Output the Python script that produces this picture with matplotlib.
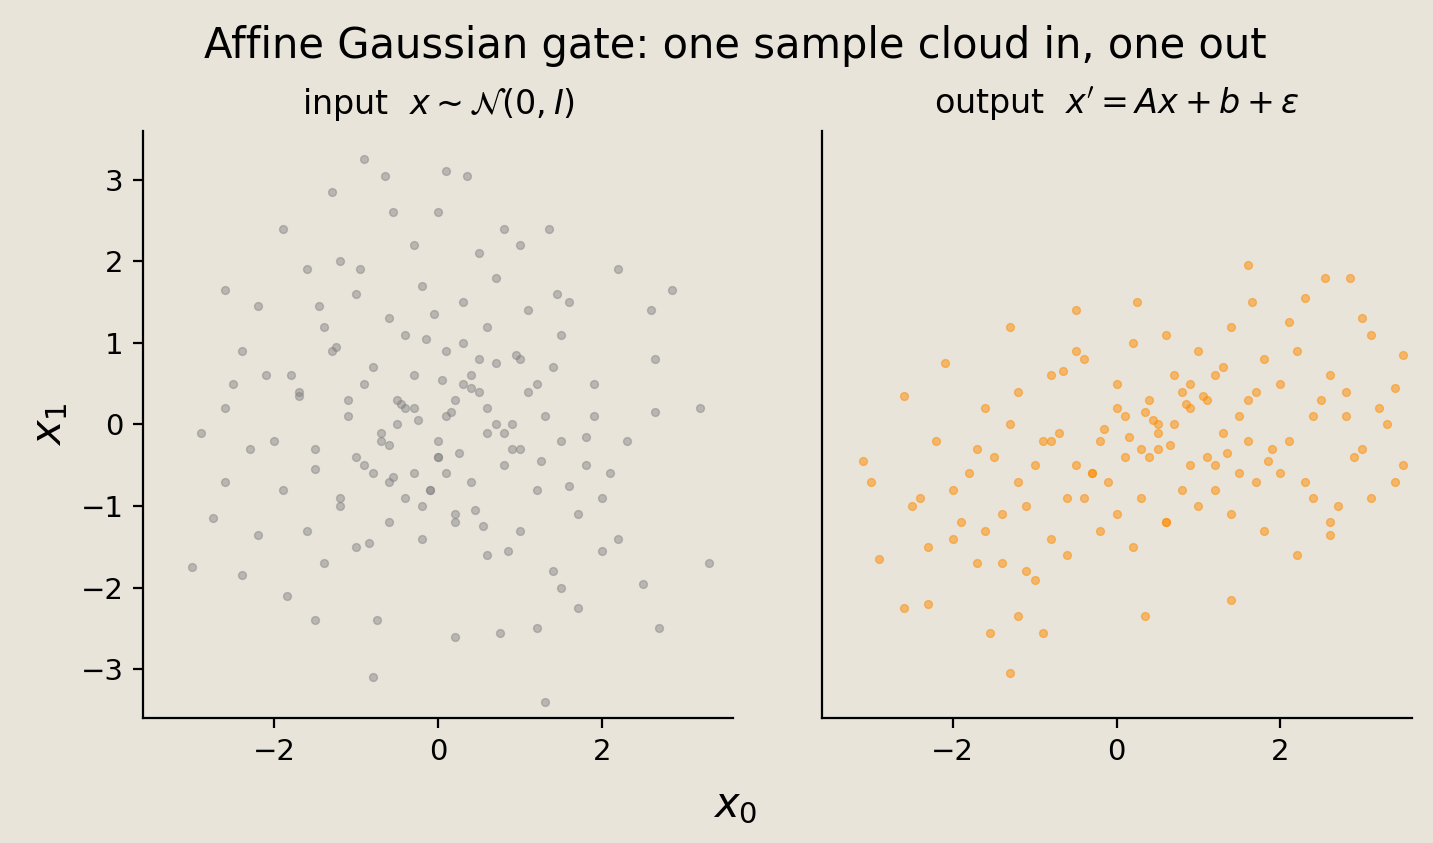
import numpy as np
import matplotlib.pyplot as plt

# input cloud points (x0, x1)
input_points = [
    (-3.0, -1.75), (3.3, -1.7), (-0.9, 3.25), (0.1, 3.1), (0.35, 3.05), (-0.65, 3.05), (-1.3, 2.85),
    (-2.6, 1.65), (2.85, 1.65), (3.2, 0.2), (-2.9, -0.1), (-2.75, -1.15), (-2.4, -1.85), (2.7, -2.5),
    (1.3, -3.4), (-0.8, -3.1), (2.5, -1.95), (-1.9, 2.4), (1.35, 2.4), (0.8, 2.4), (0.0, 2.6),
    (-0.55, 2.6), (2.2, 1.9), (2.6, 1.4), (2.65, 0.8), (2.65, 0.15), (-2.2, 1.45), (-2.4, 0.9),
    (-2.5, 0.5), (-2.6, 0.2), (-2.3, -0.3), (-2.6, -0.7), (-2.2, -1.35), (-1.85, -2.1), (-1.5, -2.4),
    (-0.75, -2.4), (0.2, -2.6), (0.75, -2.55), (1.2, -2.5), (1.7, -2.25), (2.0, -1.55), (2.2, -1.4),
    (1.5, -2.0), (-1.6, 1.9), (-1.2, 2.0), (-0.3, 2.2), (0.5, 2.1), (1.0, 2.2), (1.6, 1.5),
    (1.9, 0.5), (-1.8, 0.6), (-1.4, 1.2), (-1.0, 1.6), (-0.6, 1.3), (-0.2, 1.7), (0.3, 1.5),
    (0.7, 1.8), (1.1, 1.4), (1.5, 1.1), (1.8, -0.5), (-2.0, -0.2), (-1.7, 0.4), (-1.3, 0.9),
    (-0.9, 0.5), (-0.4, 1.1), (0.1, 0.9), (0.6, 1.2), (1.0, 0.8), (1.4, 0.7), (2.0, -0.9),
    (-1.9, -0.8), (-1.5, -0.3), (-1.1, 0.1), (-0.7, -0.1), (-0.3, 0.6), (0.2, 0.3), (0.6, 0.2),
    (1.1, 0.4), (1.5, -0.2), (1.9, 0.1), (-1.6, -1.3), (-1.2, -1.0), (-0.8, -0.6), (-0.4, -0.9),
    (0.0, -0.4), (0.4, -0.7), (0.8, -0.5), (1.2, -0.8), (1.7, -1.1), (2.1, -0.6), (-1.4, -1.7),
    (-1.0, -1.5), (-0.6, -1.2), (-0.2, -1.4), (0.2, -1.1), (0.6, -1.6), (1.0, -1.3), (1.4, -1.8),
    (-1.1, 0.3), (-0.7, -0.2), (-0.3, 0.2), (0.1, -0.6), (0.5, 0.4), (0.9, -0.3), (1.3, 0.1),
    (-0.9, -0.5), (-0.5, 0.0), (-0.1, -0.8), (0.3, 0.5), (0.7, 0.0), (-0.8, 0.7), (-0.4, 0.2),
    (0.0, -0.4), (0.4, 0.6), (0.8, -0.1), (1.2, 0.5), (-1.2, -0.9), (-0.6, -0.7), (-0.2, -1.0),
    (0.2, -1.2), (0.6, -0.1), (1.0, -0.3), (-0.5, 0.3), (0.0, -0.2), (0.5, 0.8), (-0.3, -0.6),
    (0.3, 1.0), (0.9, 0.0), (-1.0, -0.4), (0.1, 0.1), (-0.1, -0.8), (0.4, 0.45), (-0.6, -0.25),
    (0.7, 0.75), (-1.5, -0.55), (1.6, -0.75), (-2.1, 0.6), (2.3, -0.2), (-1.7, 0.35), (1.8, -0.15),
    (-0.25, 0.05), (0.25, -0.35), (-0.45, 0.25), (0.45, -1.05), (-0.15, 1.05), (0.15, 0.15),
    (-0.85, -1.45), (0.85, -1.55), (-1.25, 0.95), (1.25, -0.45), (0.05, 0.55), (-0.05, 1.35),
    (0.55, -1.25), (-0.55, -0.65), (0.95, 0.85), (-0.95, 1.9), (1.45, 1.6), (-1.45, 1.45),
]

# output cloud points (x0', x1')
output_points = [
    (-3.1, -0.45), (-3.0, -0.7), (-2.6, -2.25), (-2.3, -2.2), (-1.3, -3.05), (-1.2, -2.35),
    (-1.55, -2.55), (-0.9, -2.55), (1.4, -2.15), (0.35, -2.35), (1.6, 1.95), (2.55, 1.8),
    (2.85, 1.8), (3.1, 1.1), (3.5, 0.85), (3.5, -0.5), (3.4, -0.7), (2.6, -1.35), (3.0, 1.3),
    (1.65, 1.5), (0.25, 1.5), (-0.5, 1.4), (-1.3, 1.2), (-2.1, 0.75), (-2.6, 0.35), (-2.9, -1.65),
    (-1.7, -1.7), (2.3, 1.55), (2.1, 1.25), (-2.4, -0.9), (-2.2, -0.2), (-2.0, -1.4), (-1.8, -0.6),
    (-1.6, 0.2), (-1.4, -1.1), (-1.2, 0.4), (-1.0, -0.5), (-0.8, 0.6), (-0.6, -0.9), (-0.4, 0.8),
    (-0.2, -0.2), (0.0, 0.5), (0.2, 1.0), (0.4, 0.3), (0.6, 1.1), (0.8, 0.4), (1.0, 0.9),
    (1.2, 0.6), (1.4, 1.2), (1.6, 0.3), (1.8, 0.8), (2.0, 0.5), (2.2, 0.9), (2.4, 0.1),
    (2.6, 0.6), (2.8, 0.4), (3.0, -0.3), (3.2, 0.2), (-2.3, -1.5), (-1.9, -1.2), (-1.5, -0.4),
    (-1.1, -1.0), (-0.7, -0.1), (-0.3, -0.6), (0.1, 0.1), (0.5, -0.3), (0.9, 0.2), (1.3, -0.1),
    (1.7, 0.4), (2.1, -0.2), (2.5, 0.3), (2.9, -0.4), (3.3, 0.0), (-2.0, -0.8), (-1.6, -1.3),
    (-1.2, -0.7), (-0.8, -1.4), (-0.4, -0.9), (0.0, -1.1), (0.4, -0.4), (0.8, -0.8), (1.2, -0.5),
    (1.6, -0.2), (2.0, -0.6), (2.4, -0.9), (2.8, 0.1), (-1.7, -0.3), (-1.3, 0.0), (-0.9, -0.2),
    (-0.5, -0.5), (-0.1, -0.7), (0.3, -0.3), (0.7, 0.0), (1.1, -0.4), (1.5, 0.1), (1.9, -0.3),
    (2.3, -0.7), (2.7, -1.0), (3.1, -0.9), (-1.4, -1.7), (-1.0, -1.9), (-0.6, -1.6), (-0.2, -1.3),
    (0.2, -1.5), (0.6, -1.2), (1.0, -1.0), (1.4, -1.1), (1.8, -1.3), (2.2, -1.6), (-0.3, -0.6),
    (0.1, -0.4), (0.5, 0.0), (0.9, 0.5), (1.3, 0.7), (-0.8, -0.2), (0.3, -0.9), (0.7, 0.6),
    (1.1, 0.3), (0.5, -0.1), (0.0, 0.2), (0.9, -0.5), (1.5, -0.6), (-0.5, 0.9), (0.6, -1.2),
    (1.2, -0.8), (1.7, -0.7), (-1.1, -1.8), (2.6, -1.2), (-2.5, -1.0), (3.4, 0.45), (-0.15, -0.05),
    (0.35, 0.15), (0.85, 0.25), (1.35, -0.35), (-0.65, 0.65), (1.85, -0.45), (0.15, -0.15),
    (0.65, -0.25), (1.05, 0.35), (0.45, 0.05),
]

in_x0 = [p[0] for p in input_points]
in_x1 = [p[1] for p in input_points]
out_x0 = [p[0] for p in output_points]
out_x1 = [p[1] for p in output_points]

bg = '#e8e4da'
fig, axes = plt.subplots(1, 2, figsize=(7.165, 4.215), dpi=200, sharey=True)
fig.patch.set_facecolor(bg)

axes[0].scatter(in_x0, in_x1, s=8, color='gray', alpha=0.45, linewidths=0.5)
axes[1].scatter(out_x0, out_x1, s=8, color='#ff8c00', alpha=0.5, linewidths=0.5)

axes[0].set_title(r'input  $x \sim \mathcal{N}(0, I)$', fontsize=12)
axes[1].set_title(r"output  $x' = Ax + b + \varepsilon$", fontsize=12)
for ax in axes:
    ax.set_facecolor(bg)
    ax.set_xlim(-3.6, 3.6)
    ax.set_ylim(-3.6, 3.6)
    ax.set_xticks([-2, 0, 2])
    ax.spines['top'].set_visible(False)
    ax.spines['right'].set_visible(False)
    ax.tick_params(labelsize=10.5)
axes[1].tick_params(axis='y', left=False)
axes[0].set_yticks([-3, -2, -1, 0, 1, 2, 3])
axes[0].set_ylabel(r'$x_1$', fontsize=15)
fig.supxlabel(r'$x_0$', fontsize=15, x=0.513, y=0.02)
fig.suptitle('Affine Gaussian gate: one sample cloud in, one out', fontsize=15, x=0.513, y=0.97)
plt.subplots_adjust(left=0.1, right=0.985, top=0.845, bottom=0.148, wspace=0.15)
plt.savefig('out.png', dpi=200, facecolor=bg)
